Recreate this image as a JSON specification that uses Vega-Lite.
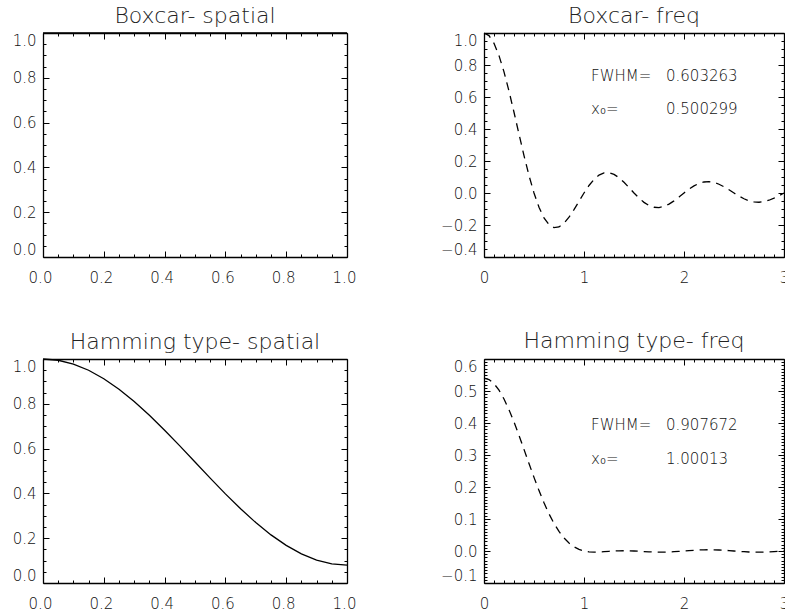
{
  "$schema": "https://vega.github.io/schema/vega-lite/v6.json",
  "background": "white",
  "padding": {"left": 12, "top": 5, "right": -4, "bottom": 2},
  "columns": 2,
  "spacing": {"column": 137, "row": 102},
  "bounds": "flush",
  "datasets": {
    "boxSpatial": [{"x": 0, "y": 1}, {"x": 1, "y": 1}],
    "boxFreq": [
      {"x":0,"y":1},{"x":0.05,"y":0.98363},{"x":0.1,"y":0.93549},{"x":0.15,"y":0.85839},{"x":0.2,"y":0.75683},{"x":0.25,"y":0.63662},{"x":0.3,"y":0.50455},{"x":0.35,"y":0.36788},{"x":0.4,"y":0.23387},{"x":0.45,"y":0.10929},{"x":0.5,"y":0},{"x":0.55,"y":-0.08942},{"x":0.6,"y":-0.15592},{"x":0.65,"y":-0.19809},{"x":0.7,"y":-0.21624},{"x":0.75,"y":-0.21221},{"x":0.8,"y":-0.18921},{"x":0.85,"y":-0.15148},{"x":0.9,"y":-0.10394},{"x":0.95,"y":-0.05177},{"x":1,"y":0},{"x":1.05,"y":0.04684},{"x":1.1,"y":0.08505},{"x":1.15,"y":0.11196},{"x":1.2,"y":0.12614},{"x":1.25,"y":0.12732},{"x":1.3,"y":0.11643},{"x":1.35,"y":0.09538},{"x":1.4,"y":0.06682},{"x":1.45,"y":0.03392},{"x":1.5,"y":0},{"x":1.55,"y":-0.03173},{"x":1.6,"y":-0.05847},{"x":1.65,"y":-0.07804},{"x":1.7,"y":-0.08904},{"x":1.75,"y":-0.09095},{"x":1.8,"y":-0.08409},{"x":1.85,"y":-0.0696},{"x":1.9,"y":-0.04924},{"x":1.95,"y":-0.02522},{"x":2,"y":0},{"x":2.05,"y":0.02399},{"x":2.1,"y":0.04455},{"x":2.15,"y":0.05989},{"x":2.2,"y":0.0688},{"x":2.25,"y":0.07074},{"x":2.3,"y":0.06581},{"x":2.35,"y":0.05479},{"x":2.4,"y":0.03898},{"x":2.45,"y":0.02007},{"x":2.5,"y":0},{"x":2.55,"y":-0.01929},{"x":2.6,"y":-0.03598},{"x":2.65,"y":-0.04859},{"x":2.7,"y":-0.05606},{"x":2.75,"y":-0.05787},{"x":2.8,"y":-0.05406},{"x":2.85,"y":-0.04518},{"x":2.9,"y":-0.03226},{"x":2.95,"y":-0.01667},{"x":3,"y":0}
    ],
    "hamSpatial": [
      {"x":0,"y":1},{"x":0.05,"y":0.99434},{"x":0.1,"y":0.97749},{"x":0.15,"y":0.94986},{"x":0.2,"y":0.91215},{"x":0.25,"y":0.86527},{"x":0.3,"y":0.81038},{"x":0.35,"y":0.74884},{"x":0.4,"y":0.68215},{"x":0.45,"y":0.61196},{"x":0.5,"y":0.54},{"x":0.55,"y":0.46804},{"x":0.6,"y":0.39785},{"x":0.65,"y":0.33116},{"x":0.7,"y":0.26962},{"x":0.75,"y":0.21473},{"x":0.8,"y":0.16785},{"x":0.85,"y":0.13014},{"x":0.9,"y":0.10251},{"x":0.95,"y":0.08566},{"x":1,"y":0.08}
    ],
    "hamFreq": [
      {"x":0,"y":0.54},{"x":0.05,"y":0.53573},{"x":0.1,"y":0.5231},{"x":0.15,"y":0.50259},{"x":0.2,"y":0.475},{"x":0.25,"y":0.44139},{"x":0.3,"y":0.40301},{"x":0.35,"y":0.36125},{"x":0.4,"y":0.31755},{"x":0.45,"y":0.27334},{"x":0.5,"y":0.23},{"x":0.55,"y":0.18872},{"x":0.6,"y":0.15053},{"x":0.65,"y":0.11621},{"x":0.7,"y":0.08631},{"x":0.75,"y":0.06112},{"x":0.8,"y":0.04066},{"x":0.85,"y":0.02475},{"x":0.9,"y":0.01303},{"x":0.95,"y":0.00498},{"x":1,"y":0},{"x":1.05,"y":-0.00257},{"x":1.1,"y":-0.00338},{"x":1.15,"y":-0.00305},{"x":1.2,"y":-0.0021},{"x":1.25,"y":-0.00097},{"x":1.3,"y":0.00002},{"x":1.35,"y":0.00066},{"x":1.4,"y":0.00085},{"x":1.45,"y":0.00061},{"x":1.5,"y":0},{"x":1.55,"y":-0.00084},{"x":1.6,"y":-0.00177},{"x":1.65,"y":-0.00261},{"x":1.7,"y":-0.00324},{"x":1.75,"y":-0.00356},{"x":1.8,"y":-0.00349},{"x":1.85,"y":-0.00305},{"x":1.9,"y":-0.00225},{"x":1.95,"y":-0.0012},{"x":2,"y":0},{"x":2.05,"y":0.00122},{"x":2.1,"y":0.00233},{"x":2.15,"y":0.00322},{"x":2.2,"y":0.00378},{"x":2.25,"y":0.00397},{"x":2.3,"y":0.00376},{"x":2.35,"y":0.00319},{"x":2.4,"y":0.0023},{"x":2.45,"y":0.0012},{"x":2.5,"y":0},{"x":2.55,"y":-0.00119},{"x":2.6,"y":-0.00224},{"x":2.65,"y":-0.00306},{"x":2.7,"y":-0.00357},{"x":2.75,"y":-0.00372},{"x":2.8,"y":-0.00351},{"x":2.85,"y":-0.00295},{"x":2.9,"y":-0.00213},{"x":2.95,"y":-0.00111},{"x":3,"y":0}
    ],
    "boxAnn": [
      {"x": 1.07, "y": 0.73, "label": "FWHM="},
      {"x": 1.82, "y": 0.73, "label": "0.603263"},
      {"x": 1.07, "y": 0.523, "label": "x₀="},
      {"x": 1.82, "y": 0.523, "label": "0.500299"}
    ],
    "hamAnn": [
      {"x": 1.07, "y": 0.393, "label": "FWHM="},
      {"x": 1.82, "y": 0.393, "label": "0.907672"},
      {"x": 1.07, "y": 0.286, "label": "x₀="},
      {"x": 1.82, "y": 0.286, "label": "1.00013"}
    ]
  },
  "concat": [
    {
      "width": 304, "height": 224,
      "title": {"text": "Boxcar- spatial"},
      "layer": [
        {
          "data": {"name": "boxSpatial"},
          "mark": {"type": "line", "color": "black", "strokeWidth": 1.3},
          "encoding": {
            "x": {"field": "x", "type": "quantitative", "scale": {"domain": [0, 1], "nice": false, "zero": false},
              "axis": {"orient": "bottom", "title": null, "values": [0,0.05,0.1,0.15,0.2,0.25,0.3,0.35,0.4,0.45,0.5,0.55,0.6,0.65,0.7,0.75,0.8,0.85,0.9,0.95,1],
                "tickSize": {"condition": {"test": "abs(datum.value*5-round(datum.value*5))<0.001", "value": -6}, "value": -3},
                "labelExpr": "abs(datum.value*5-round(datum.value*5))<0.001 ? format(datum.value,'.1f') : ''", "labelPadding": 19, "labelOffset": -3, "labelFlush": false}},
            "y": {"field": "y", "type": "quantitative", "scale": {"domain": [0, 1], "nice": false, "zero": false},
              "axis": {"orient": "left", "title": null, "values": [0,0.05,0.1,0.15,0.2,0.25,0.3,0.35,0.4,0.45,0.5,0.55,0.6,0.65,0.7,0.75,0.8,0.85,0.9,0.95,1],
                "tickSize": {"condition": {"test": "abs(datum.value*5-round(datum.value*5))<0.001", "value": -6}, "value": -3},
                "labelExpr": "abs(datum.value*5-round(datum.value*5))<0.001 ? format(datum.value,'.1f') : ''", "labelPadding": 13, "labelFlush": true}}
          }
        },
        {
          "data": {"name": "boxSpatial"},
          "mark": {"type": "point", "opacity": 0},
          "encoding": {
            "x": {"field": "x", "type": "quantitative", "scale": {"domain": [0, 1], "nice": false, "zero": false},
              "axis": {"orient": "top", "title": null, "labels": false, "values": [0,0.05,0.1,0.15,0.2,0.25,0.3,0.35,0.4,0.45,0.5,0.55,0.6,0.65,0.7,0.75,0.8,0.85,0.9,0.95,1],
                "tickSize": {"condition": {"test": "abs(datum.value*5-round(datum.value*5))<0.001", "value": -6}, "value": -3}}},
            "y": {"field": "y", "type": "quantitative", "scale": {"domain": [0, 1], "nice": false, "zero": false},
              "axis": {"orient": "right", "title": null, "labels": false, "values": [0,0.05,0.1,0.15,0.2,0.25,0.3,0.35,0.4,0.45,0.5,0.55,0.6,0.65,0.7,0.75,0.8,0.85,0.9,0.95,1],
                "tickSize": {"condition": {"test": "abs(datum.value*5-round(datum.value*5))<0.001", "value": -6}, "value": -3}}}
          }
        }
      ],
      "resolve": {"axis": {"x": "independent", "y": "independent"}}
    },
    {
      "width": 300, "height": 224,
      "title": {"text": "Boxcar- freq"},
      "layer": [
        {
          "data": {"name": "boxFreq"},
          "mark": {"type": "line", "color": "black", "strokeWidth": 1.3, "strokeDash": [8, 6]},
          "encoding": {
            "x": {"field": "x", "type": "quantitative", "scale": {"domain": [0, 3], "nice": false, "zero": false},
              "axis": {"orient": "bottom", "title": null, "values": [0,0.1,0.2,0.3,0.4,0.5,0.6,0.7,0.8,0.9,1,1.1,1.2,1.3,1.4,1.5,1.6,1.7,1.8,1.9,2,2.1,2.2,2.3,2.4,2.5,2.6,2.7,2.8,2.9,3],
                "tickSize": {"condition": {"test": "abs(datum.value-round(datum.value))<0.001", "value": -6}, "value": -3},
                "labelExpr": "abs(datum.value-round(datum.value))<0.001 ? format(datum.value,'d') : ''", "labelPadding": 19, "labelFlush": false}},
            "y": {"field": "y", "type": "quantitative", "scale": {"domain": [-0.4, 1], "nice": false, "zero": false},
              "axis": {"orient": "left", "title": null, "values": [-0.4,-0.35,-0.3,-0.25,-0.2,-0.15,-0.1,-0.05,0,0.05,0.1,0.15,0.2,0.25,0.3,0.35,0.4,0.45,0.5,0.55,0.6,0.65,0.7,0.75,0.8,0.85,0.9,0.95,1],
                "tickSize": {"condition": {"test": "abs(datum.value*5-round(datum.value*5))<0.001", "value": -6}, "value": -3},
                "labelExpr": "abs(datum.value*5-round(datum.value*5))<0.001 ? format(datum.value,'.1f') : ''", "labelPadding": 13, "labelFlush": true}}
          }
        },
        {
          "data": {"name": "boxFreq"},
          "mark": {"type": "point", "opacity": 0},
          "encoding": {
            "x": {"field": "x", "type": "quantitative", "scale": {"domain": [0, 3], "nice": false, "zero": false},
              "axis": {"orient": "top", "title": null, "labels": false, "values": [0,0.1,0.2,0.3,0.4,0.5,0.6,0.7,0.8,0.9,1,1.1,1.2,1.3,1.4,1.5,1.6,1.7,1.8,1.9,2,2.1,2.2,2.3,2.4,2.5,2.6,2.7,2.8,2.9,3],
                "tickSize": {"condition": {"test": "abs(datum.value-round(datum.value))<0.001", "value": -6}, "value": -3}}},
            "y": {"field": "y", "type": "quantitative", "scale": {"domain": [-0.4, 1], "nice": false, "zero": false},
              "axis": {"orient": "right", "title": null, "labels": false, "values": [-0.4,-0.35,-0.3,-0.25,-0.2,-0.15,-0.1,-0.05,0,0.05,0.1,0.15,0.2,0.25,0.3,0.35,0.4,0.45,0.5,0.55,0.6,0.65,0.7,0.75,0.8,0.85,0.9,0.95,1],
                "tickSize": {"condition": {"test": "abs(datum.value*5-round(datum.value*5))<0.001", "value": -6}, "value": -3}}}
          }
        },
        {
          "data": {"name": "boxAnn"},
          "mark": {"type": "text", "align": "left", "baseline": "middle", "fontSize": 15, "color": "#111", "fontWeight": 200},
          "encoding": {
            "x": {"field": "x", "type": "quantitative", "axis": null},
            "y": {"field": "y", "type": "quantitative", "axis": null},
            "text": {"field": "label"}
          }
        }
      ],
      "resolve": {"axis": {"x": "independent", "y": "independent"}}
    },
    {
      "width": 304, "height": 224,
      "title": {"text": "Hamming type- spatial"},
      "layer": [
        {
          "data": {"name": "hamSpatial"},
          "mark": {"type": "line", "color": "black", "strokeWidth": 1.3},
          "encoding": {
            "x": {"field": "x", "type": "quantitative", "scale": {"domain": [0, 1], "nice": false, "zero": false},
              "axis": {"orient": "bottom", "title": null, "values": [0,0.05,0.1,0.15,0.2,0.25,0.3,0.35,0.4,0.45,0.5,0.55,0.6,0.65,0.7,0.75,0.8,0.85,0.9,0.95,1],
                "tickSize": {"condition": {"test": "abs(datum.value*5-round(datum.value*5))<0.001", "value": -6}, "value": -3},
                "labelExpr": "abs(datum.value*5-round(datum.value*5))<0.001 ? format(datum.value,'.1f') : ''", "labelPadding": 19, "labelOffset": -3, "labelFlush": false}},
            "y": {"field": "y", "type": "quantitative", "scale": {"domain": [0, 1], "nice": false, "zero": false},
              "axis": {"orient": "left", "title": null, "values": [0,0.05,0.1,0.15,0.2,0.25,0.3,0.35,0.4,0.45,0.5,0.55,0.6,0.65,0.7,0.75,0.8,0.85,0.9,0.95,1],
                "tickSize": {"condition": {"test": "abs(datum.value*5-round(datum.value*5))<0.001", "value": -6}, "value": -3},
                "labelExpr": "abs(datum.value*5-round(datum.value*5))<0.001 ? format(datum.value,'.1f') : ''", "labelPadding": 13, "labelFlush": true}}
          }
        },
        {
          "data": {"name": "hamSpatial"},
          "mark": {"type": "point", "opacity": 0},
          "encoding": {
            "x": {"field": "x", "type": "quantitative", "scale": {"domain": [0, 1], "nice": false, "zero": false},
              "axis": {"orient": "top", "title": null, "labels": false, "values": [0,0.05,0.1,0.15,0.2,0.25,0.3,0.35,0.4,0.45,0.5,0.55,0.6,0.65,0.7,0.75,0.8,0.85,0.9,0.95,1],
                "tickSize": {"condition": {"test": "abs(datum.value*5-round(datum.value*5))<0.001", "value": -6}, "value": -3}}},
            "y": {"field": "y", "type": "quantitative", "scale": {"domain": [0, 1], "nice": false, "zero": false},
              "axis": {"orient": "right", "title": null, "labels": false, "values": [0,0.05,0.1,0.15,0.2,0.25,0.3,0.35,0.4,0.45,0.5,0.55,0.6,0.65,0.7,0.75,0.8,0.85,0.9,0.95,1],
                "tickSize": {"condition": {"test": "abs(datum.value*5-round(datum.value*5))<0.001", "value": -6}, "value": -3}}}
          }
        }
      ],
      "resolve": {"axis": {"x": "independent", "y": "independent"}}
    },
    {
      "width": 300, "height": 224,
      "title": {"text": "Hamming type- freq"},
      "layer": [
        {
          "data": {"name": "hamFreq"},
          "mark": {"type": "line", "color": "black", "strokeWidth": 1.3, "strokeDash": [8, 6]},
          "encoding": {
            "x": {"field": "x", "type": "quantitative", "scale": {"domain": [0, 3], "nice": false, "zero": false},
              "axis": {"orient": "bottom", "title": null, "values": [0,0.1,0.2,0.3,0.4,0.5,0.6,0.7,0.8,0.9,1,1.1,1.2,1.3,1.4,1.5,1.6,1.7,1.8,1.9,2,2.1,2.2,2.3,2.4,2.5,2.6,2.7,2.8,2.9,3],
                "tickSize": {"condition": {"test": "abs(datum.value-round(datum.value))<0.001", "value": -6}, "value": -3},
                "labelExpr": "abs(datum.value-round(datum.value))<0.001 ? format(datum.value,'d') : ''", "labelPadding": 19, "labelFlush": false}},
            "y": {"field": "y", "type": "quantitative", "scale": {"domain": [-0.1, 0.6], "nice": false, "zero": false},
              "axis": {"orient": "left", "title": null, "values": [-0.1,-0.09,-0.08,-0.07,-0.06,-0.05,-0.04,-0.03,-0.02,-0.01,0,0.01,0.02,0.03,0.04,0.05,0.06,0.07,0.08,0.09,0.1,0.11,0.12,0.13,0.14,0.15,0.16,0.17,0.18,0.19,0.2,0.21,0.22,0.23,0.24,0.25,0.26,0.27,0.28,0.29,0.3,0.31,0.32,0.33,0.34,0.35,0.36,0.37,0.38,0.39,0.4,0.41,0.42,0.43,0.44,0.45,0.46,0.47,0.48,0.49,0.5,0.51,0.52,0.53,0.54,0.55,0.56,0.57,0.58,0.59,0.6],
                "tickSize": {"condition": {"test": "abs(datum.value*10-round(datum.value*10))<0.001", "value": -6}, "value": -3},
                "labelExpr": "abs(datum.value*10-round(datum.value*10))<0.001 ? format(datum.value,'.1f') : ''", "labelPadding": 13, "labelFlush": true}}
          }
        },
        {
          "data": {"name": "hamFreq"},
          "mark": {"type": "point", "opacity": 0},
          "encoding": {
            "x": {"field": "x", "type": "quantitative", "scale": {"domain": [0, 3], "nice": false, "zero": false},
              "axis": {"orient": "top", "title": null, "labels": false, "values": [0,0.1,0.2,0.3,0.4,0.5,0.6,0.7,0.8,0.9,1,1.1,1.2,1.3,1.4,1.5,1.6,1.7,1.8,1.9,2,2.1,2.2,2.3,2.4,2.5,2.6,2.7,2.8,2.9,3],
                "tickSize": {"condition": {"test": "abs(datum.value-round(datum.value))<0.001", "value": -6}, "value": -3}}},
            "y": {"field": "y", "type": "quantitative", "scale": {"domain": [-0.1, 0.6], "nice": false, "zero": false},
              "axis": {"orient": "right", "title": null, "labels": false, "values": [-0.1,-0.09,-0.08,-0.07,-0.06,-0.05,-0.04,-0.03,-0.02,-0.01,0,0.01,0.02,0.03,0.04,0.05,0.06,0.07,0.08,0.09,0.1,0.11,0.12,0.13,0.14,0.15,0.16,0.17,0.18,0.19,0.2,0.21,0.22,0.23,0.24,0.25,0.26,0.27,0.28,0.29,0.3,0.31,0.32,0.33,0.34,0.35,0.36,0.37,0.38,0.39,0.4,0.41,0.42,0.43,0.44,0.45,0.46,0.47,0.48,0.49,0.5,0.51,0.52,0.53,0.54,0.55,0.56,0.57,0.58,0.59,0.6],
                "tickSize": {"condition": {"test": "abs(datum.value*10-round(datum.value*10))<0.001", "value": -6}, "value": -3}}}
          }
        },
        {
          "data": {"name": "hamAnn"},
          "mark": {"type": "text", "align": "left", "baseline": "middle", "fontSize": 15, "color": "#111", "fontWeight": 200},
          "encoding": {
            "x": {"field": "x", "type": "quantitative", "axis": null},
            "y": {"field": "y", "type": "quantitative", "axis": null},
            "text": {"field": "label"}
          }
        }
      ],
      "resolve": {"axis": {"x": "independent", "y": "independent"}}
    }
  ],
  "config": {
    "font": "DejaVu Sans",
    "view": {"stroke": null},
    "axis": {
      "grid": false,
      "domainColor": "black",
      "domainWidth": 1.3,
      "tickColor": "black",
      "tickWidth": 1,
      "labelColor": "#111",
      "labelFont": "DejaVu Sans",
      "labelFontWeight": 200,
      "labelFontSize": 15,
      "labelOverlap": false,
      "labelBound": false
    },
    "title": {
      "font": "DejaVu Sans",
      "fontSize": 22,
      "fontWeight": 200,
      "color": "#222",
      "anchor": "middle",
      "frame": "group",
      "offset": 2
    }
  }
}
